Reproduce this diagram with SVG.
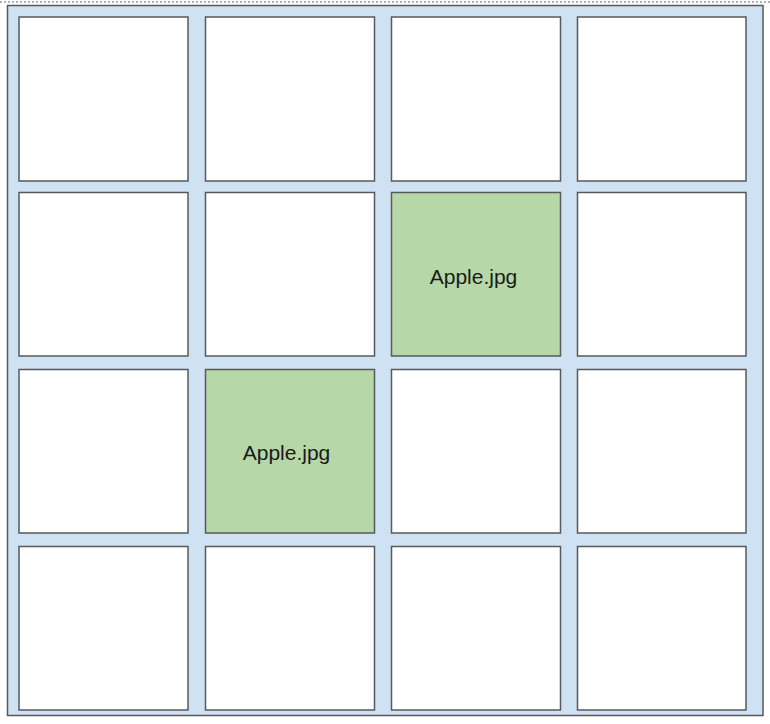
<svg xmlns="http://www.w3.org/2000/svg" width="770" height="724" viewBox="0 0 770 724">
<style>
.bg{fill:#cfe2f3;stroke:#595959;stroke-width:1.5}
.cell{fill:#ffffff;stroke:#595959;stroke-width:1.5}
.hit{fill:#b6d7a8;stroke:#595959;stroke-width:1.5}
.lbl{font-family:"Liberation Sans",Arial,sans-serif;font-size:21px;fill:#1a1a1a;text-anchor:middle;dominant-baseline:central}
</style>
<rect width="770" height="724" fill="#ffffff"/>
<line x1="0" y1="2" x2="770" y2="2" stroke="#999999" stroke-width="1.5" stroke-dasharray="2,2"/>
<g id="board"><rect class="bg" x="7.5" y="5.5" width="755.5" height="710"/></g>
<g id="cells">
<g id="c11"><rect class="cell" x="19" y="17" width="169" height="164"/></g>
<g id="c12"><rect class="cell" x="205.5" y="17" width="169" height="164"/></g>
<g id="c13"><rect class="cell" x="391.5" y="17" width="169" height="164"/></g>
<g id="c14"><rect class="cell" x="577.5" y="17" width="168.5" height="164"/></g>
<g id="c21"><rect class="cell" x="19" y="192.5" width="169" height="163.5"/></g>
<g id="c22"><rect class="cell" x="205.5" y="192.5" width="169" height="163.5"/></g>
<g id="c23"><rect class="hit" x="391.5" y="192.5" width="169" height="163.5"/><text class="lbl" x="473.5" y="276">Apple.jpg</text></g>
<g id="c24"><rect class="cell" x="577.5" y="192.5" width="168.5" height="163.5"/></g>
<g id="c31"><rect class="cell" x="19" y="369.5" width="169" height="163.5"/></g>
<g id="c32"><rect class="hit" x="205.5" y="369.5" width="169" height="163.5"/><text class="lbl" x="286.5" y="452">Apple.jpg</text></g>
<g id="c33"><rect class="cell" x="391.5" y="369.5" width="169" height="163.5"/></g>
<g id="c34"><rect class="cell" x="577.5" y="369.5" width="168.5" height="163.5"/></g>
<g id="c41"><rect class="cell" x="19" y="546.5" width="169" height="163.5"/></g>
<g id="c42"><rect class="cell" x="205.5" y="546.5" width="169" height="163.5"/></g>
<g id="c43"><rect class="cell" x="391.5" y="546.5" width="169" height="163.5"/></g>
<g id="c44"><rect class="cell" x="577.5" y="546.5" width="168.5" height="163.5"/></g>
</g>
<g id="connectors"></g>
</svg>
